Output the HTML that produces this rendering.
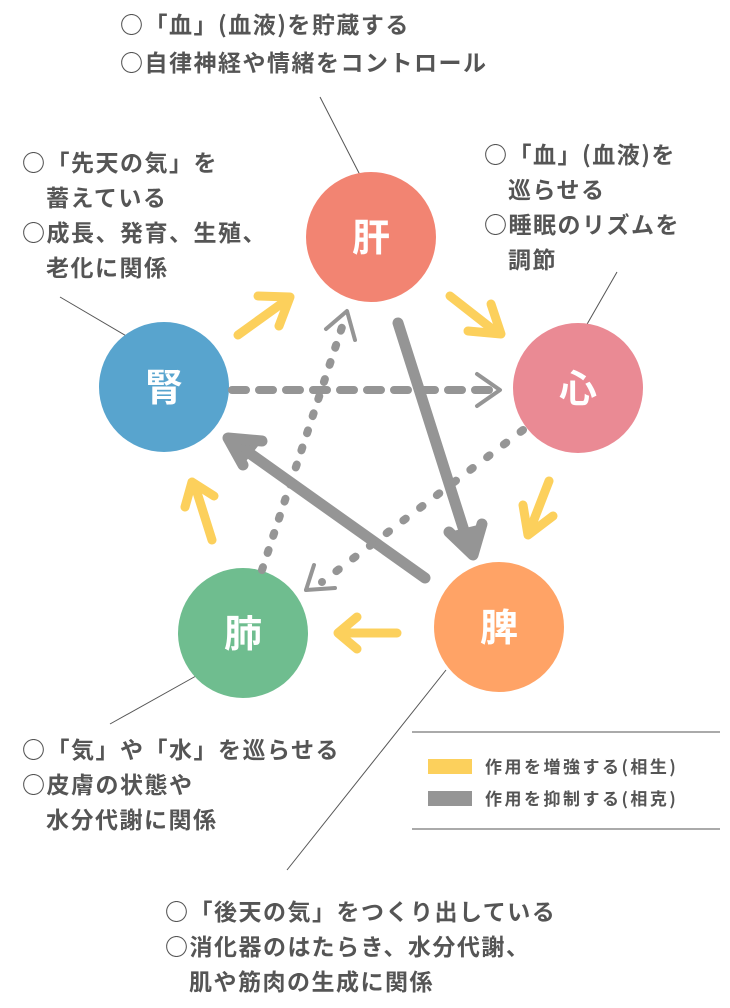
<!DOCTYPE html>
<html><head><meta charset="utf-8"><style>
html,body{margin:0;padding:0;background:#fff;}
svg{display:block;}
text{font-family:"Noto Sans CJK JP","Liberation Sans",sans-serif;fill:#555;font-weight:bold;}
</style></head><body>
<svg width="730" height="1008" viewBox="0 0 730 1008" xmlns="http://www.w3.org/2000/svg">
<g stroke="#555" stroke-width="1" fill="none">
<line x1="320" y1="97" x2="360" y2="175"/>
<line x1="617" y1="272" x2="586" y2="326"/>
<line x1="60" y1="297" x2="128" y2="337"/>
<line x1="196" y1="676" x2="110" y2="724"/>
<line x1="446" y1="670" x2="287" y2="870"/>
<line x1="412" y1="732" x2="720" y2="732"/>
<line x1="412" y1="829" x2="720" y2="829"/>
</g>
<circle cx="371" cy="237" r="65" fill="#f28472"/>
<circle cx="578" cy="388" r="65" fill="#ea8a94"/>
<circle cx="499" cy="627" r="65" fill="#ffa366"/>
<circle cx="243" cy="633" r="65" fill="#6fbd8f"/>
<circle cx="164" cy="387" r="65" fill="#58a4ce"/>
<g font-size="38" text-anchor="middle">
<text x="371" y="251" style="fill:#fff">肝</text>
<text x="578" y="402" style="fill:#fff">心</text>
<text x="499" y="641" style="fill:#fff">脾</text>
<text x="243" y="647" style="fill:#fff">肺</text>
<text x="164" y="401" style="fill:#fff">腎</text>
</g>
<g stroke="#fcd05c" stroke-width="9" stroke-linecap="round" fill="none" stroke-linejoin="round">
<line x1="238" y1="335" x2="288" y2="299"/><polyline points="258,296 290,297 279,326"/>
<line x1="450" y1="296" x2="496" y2="332"/><polyline points="468,331 501,334 491,304"/>
<line x1="549" y1="481" x2="530" y2="530"/><polyline points="523,505 528,535 553,516"/>
<line x1="397" y1="633" x2="340" y2="633"/><polyline points="357,617 338,633 357,649"/>
<line x1="212" y1="540" x2="195" y2="486"/><polyline points="185,507 192,482 214,496"/>
</g>
<g stroke="#959595" stroke-width="11" stroke-linecap="round" stroke-linejoin="round" fill="none">
<line x1="398" y1="323" x2="466" y2="537"/><polyline points="449,532 473,555 482,524" fill="#959595"/>
<line x1="425" y1="578" x2="245" y2="450"/><polyline points="262,441 228,438 243,465" fill="#959595"/>
</g>
<g stroke="#959595" stroke-width="8" stroke-linecap="round" fill="none">
<line x1="232" y1="390" x2="495" y2="390" stroke-dasharray="14 13"/>
<line x1="262" y1="570" x2="345" y2="318" stroke-dasharray="3 15"/>
<line x1="523" y1="430" x2="322" y2="582" stroke-dasharray="3 18"/>
</g>
<g stroke="#959595" stroke-width="4" stroke-linecap="round" stroke-linejoin="round" fill="none">
<polyline points="477,374 500,390 477,406"/>
<polyline points="326,329 347,311 355,340"/>
<polyline points="306,590 335,588"/>
<polyline points="314,565 306,590"/>
</g>
<rect x="428" y="759" width="44" height="15" fill="#fcd05c"/>
<rect x="428" y="791" width="44" height="15" fill="#959595"/>
<g font-size="17" letter-spacing="2.5"><text x="485" y="773">作用を増強する(相生)</text><text x="485" y="805">作用を抑制する(相克)</text></g>
<g font-size="23" letter-spacing="1.5">
<text x="120" y="33">○「血」(血液)を貯蔵する</text>
<text x="120" y="71">○自律神経や情緒をコントロール</text>
<text x="484" y="163">○「血」(血液)を</text>
<text x="508" y="198">巡らせる</text>
<text x="484" y="233">○睡眠のリズムを</text>
<text x="508" y="268">調節</text>
<text x="22" y="171">○「先天の気」を</text>
<text x="46" y="206">蓄えている</text>
<text x="22" y="241">○成長、発育、生殖、</text>
<text x="46" y="276">老化に関係</text>
<text x="22" y="758">○「気」や「水」を巡らせる</text>
<text x="22" y="793">○皮膚の状態や</text>
<text x="46" y="828">水分代謝に関係</text>
<text x="165" y="920">○「後天の気」をつくり出している</text>
<text x="165" y="955">○消化器のはたらき、水分代謝、</text>
<text x="189" y="990">肌や筋肉の生成に関係</text>
</g>
</svg>
</body></html>
